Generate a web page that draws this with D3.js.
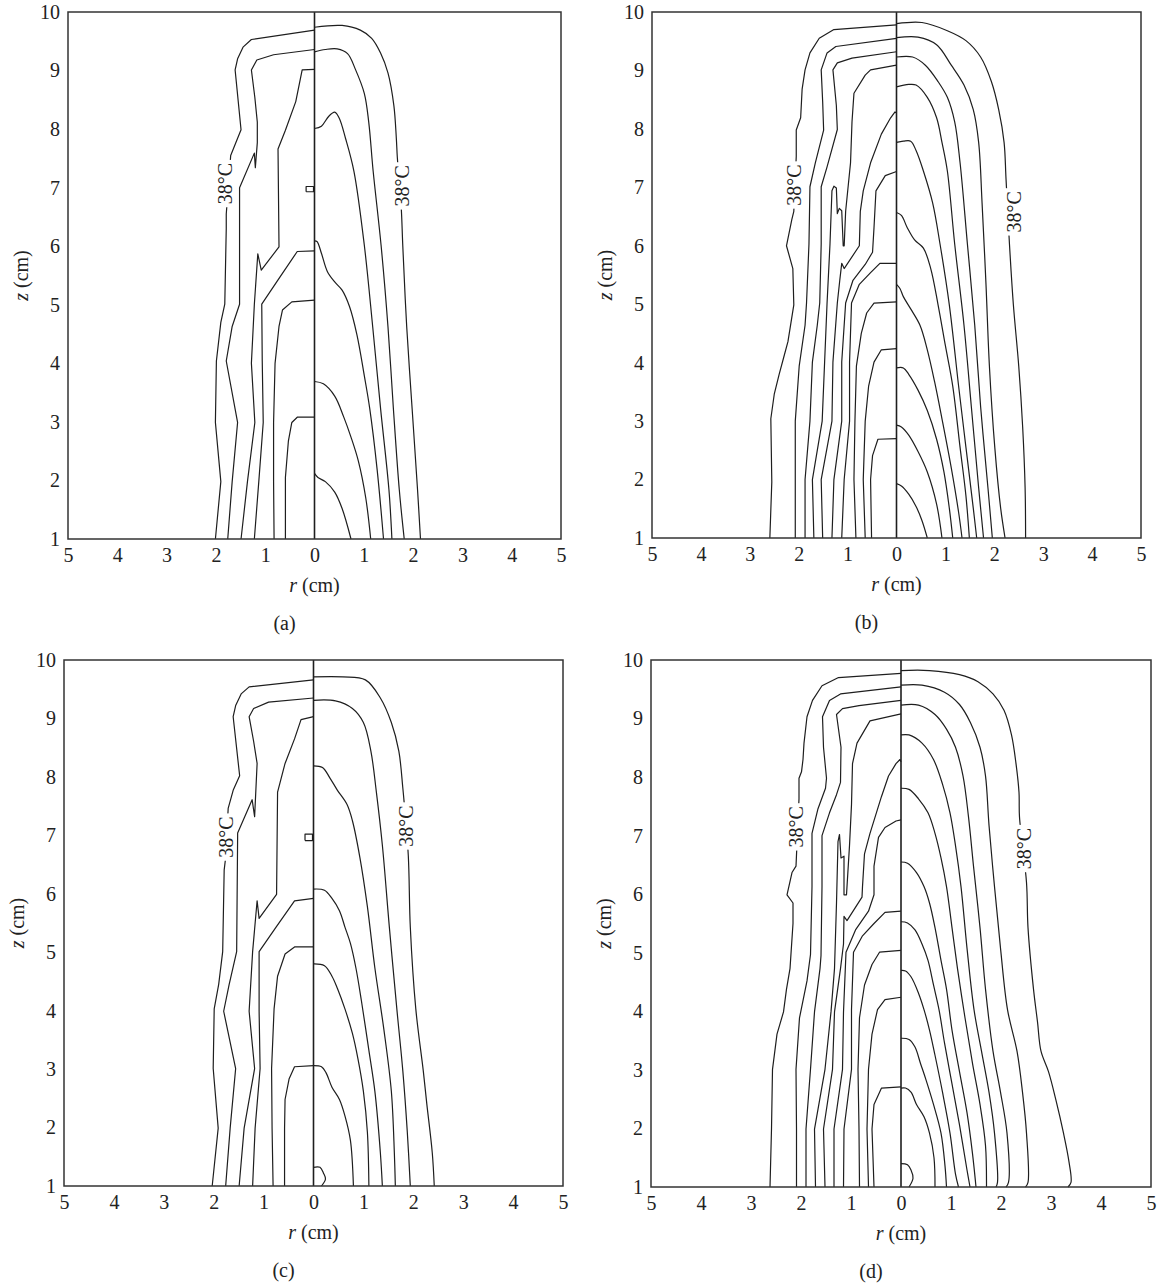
<!DOCTYPE html>
<html>
<head>
<meta charset="utf-8">
<script src="https://cdn.jsdelivr.net/npm/d3@7"></script>
<style>
  body { margin: 0; background: #fff; }
  svg text { font-family: "Liberation Serif", "Times New Roman", serif; fill: #222; }
</style>
</head>
<body>
<svg id="fig" width="1157" height="1284"></svg>
<script>
const rTicks = [-5, -4, -3, -2, -1, 0, 1, 2, 3, 4, 5];
const zTicks = [1, 2, 3, 4, 5, 6, 7, 8, 9, 10];
const isoText = "38°C";

// contour polylines, [r (cm), z (cm)]; left half uses negative r
const aLeft = [
  [[-2.01,1.00],[-1.90,1.98],[-2.01,2.99],[-1.99,4.04],[-1.90,4.70],[-1.82,5.01],[-1.79,6.30],[-1.79,6.55],[-1.70,7.55],[-1.58,7.80],[-1.49,7.99],[-1.61,9.01],[-1.56,9.20],[-1.45,9.40],[-1.28,9.53],[0,9.69]],
  [[-1.76,1.00],[-1.67,1.98],[-1.56,2.99],[-1.79,4.04],[-1.67,4.63],[-1.52,5.01],[-1.52,7.00],[-1.22,7.59],[-1.20,7.34],[-1.16,7.77],[-1.16,8.12],[-1.21,8.54],[-1.28,9.01],[-1.17,9.18],[-0.83,9.27],[0,9.36]],
  [[-1.49,1.00],[-1.36,1.98],[-1.21,2.99],[-1.28,4.00],[-1.22,5.01],[-1.15,5.87],[-1.08,5.59],[-0.72,5.99],[-0.74,7.66],[-0.59,7.98],[-0.38,8.47],[-0.25,9.01],[0,9.02]],
  [[-1.22,1.00],[-1.13,1.98],[-1.04,2.99],[-1.06,4.04],[-1.07,5.01],[-0.76,5.40],[-0.35,5.91],[0,5.92]],
  [[-0.82,1.00],[-0.83,1.98],[-0.83,2.99],[-0.80,4.00],[-0.72,4.63],[-0.65,4.91],[-0.46,5.05],[0,5.08]],
  [[-0.59,1.00],[-0.59,2.05],[-0.53,2.67],[-0.46,2.99],[-0.35,3.08],[0,3.08]]
];
const aRight = [
  [[0,9.74],[0.56,9.77],[0.93,9.69],[1.16,9.55],[1.34,9.30],[1.49,8.96],[1.61,8.40],[1.66,7.84],[1.68,7.52],[1.76,6.65],[1.79,6.02],[1.87,4.63],[1.98,3.23],[2.09,1.84],[2.15,1.00]],
  [[0,9.32],[0.22,9.36],[0.46,9.37],[0.67,9.29],[0.83,9.02],[1.01,8.61],[1.10,8.12],[1.19,7.28],[1.35,6.02],[1.49,4.63],[1.60,3.23],[1.72,1.84],[1.82,1.00]],
  [[0,8.01],[0.14,8.05],[0.29,8.22],[0.41,8.29],[0.50,8.19],[0.63,7.84],[0.80,7.28],[1.01,6.02],[1.18,4.63],[1.34,3.23],[1.51,1.84],[1.57,1.00]],
  [[0,6.09],[0.05,6.08],[0.14,5.88],[0.26,5.57],[0.41,5.39],[0.56,5.25],[0.71,4.97],[0.86,4.49],[1.01,3.79],[1.12,3.23],[1.27,2.19],[1.40,1.00]],
  [[0,3.69],[0.18,3.65],[0.41,3.44],[0.59,3.09],[0.74,2.74],[0.89,2.33],[1.04,1.70],[1.14,1.00]],
  [[0,2.12],[0.07,2.05],[0.22,1.98],[0.41,1.80],[0.56,1.52],[0.74,1.00]]
];
const aLoops = [
  [[-0.17,6.93],[-0.02,6.93],[-0.02,7.02],[-0.17,7.02],[-0.17,6.93]]
];

const bLeft = [
  [[-2.59,1.00],[-2.55,1.96],[-2.57,3.04],[-2.50,3.46],[-2.40,3.80],[-2.31,4.08],[-2.22,4.36],[-2.10,4.99],[-2.12,5.61],[-2.25,6.00],[-2.14,6.45],[-2.10,6.59],[-2.05,7.53],[-2.05,7.98],[-1.96,8.19],[-1.93,8.68],[-1.87,9.01],[-1.77,9.30],[-1.58,9.55],[-1.28,9.70],[0,9.78]],
  [[-2.07,1.00],[-2.07,2.00],[-2.07,3.00],[-1.99,3.94],[-1.87,4.64],[-1.84,5.02],[-1.79,6.03],[-1.77,7.01],[-1.66,7.42],[-1.49,7.98],[-1.51,8.47],[-1.54,9.01],[-1.42,9.30],[-1.24,9.41],[0,9.55]],
  [[-1.87,1.00],[-1.87,2.00],[-1.77,3.00],[-1.72,4.01],[-1.62,4.64],[-1.57,5.02],[-1.54,6.03],[-1.54,7.01],[-1.42,7.35],[-1.21,7.99],[-1.23,8.40],[-1.30,9.01],[-1.21,9.13],[-0.91,9.21],[0,9.32]],
  [[-1.69,1.00],[-1.72,2.00],[-1.52,3.00],[-1.47,4.01],[-1.42,5.02],[-1.36,6.03],[-1.32,6.94],[-1.28,7.02],[-1.23,6.99],[-1.21,6.55],[-1.17,6.64],[-1.12,6.60],[-1.09,6.00],[-1.07,6.00],[-1.04,6.59],[-0.94,7.42],[-0.91,8.12],[-0.87,8.61],[-0.64,8.92],[-0.53,9.01],[0,9.09]],
  [[-1.51,1.00],[-1.54,2.00],[-1.32,3.00],[-1.30,4.01],[-1.21,5.02],[-1.16,5.41],[-1.12,5.70],[-1.07,5.61],[-0.76,6.00],[-0.74,6.59],[-0.68,6.94],[-0.53,7.42],[-0.31,7.91],[-0.12,8.19],[-0.03,8.29],[0,8.27]],
  [[-1.32,1.00],[-1.28,2.00],[-1.12,3.00],[-1.12,4.01],[-1.04,5.02],[-0.89,5.41],[-0.64,5.68],[-0.49,5.89],[-0.46,6.31],[-0.42,6.94],[-0.23,7.20],[0,7.27]],
  [[-1.12,1.00],[-1.07,2.00],[-0.96,3.00],[-0.96,4.01],[-0.92,5.02],[-0.76,5.34],[-0.53,5.54],[-0.34,5.70],[0,5.70]],
  [[-0.83,1.00],[-0.87,2.00],[-0.85,3.00],[-0.82,3.94],[-0.72,4.50],[-0.61,4.85],[-0.46,5.02],[0,5.04]],
  [[-0.64,1.00],[-0.68,2.00],[-0.64,3.00],[-0.57,3.60],[-0.46,4.01],[-0.31,4.22],[0,4.24]],
  [[-0.51,1.00],[-0.53,2.00],[-0.49,2.41],[-0.38,2.69],[0,2.70]]
];
const bRight = [
  [[0,9.80],[0.52,9.82],[1.04,9.68],[1.42,9.51],[1.72,9.23],[1.94,8.81],[2.09,8.33],[2.20,7.77],[2.24,7.14],[2.31,6.03],[2.39,4.99],[2.50,3.94],[2.58,2.90],[2.63,1.86],[2.64,1.00]],
  [[0,9.56],[0.44,9.57],[0.82,9.44],[1.12,9.09],[1.38,8.75],[1.57,8.33],[1.68,7.77],[1.75,6.73],[1.83,5.34],[1.90,3.94],[2.01,2.55],[2.13,1.51],[2.22,1.00]],
  [[0,9.23],[0.33,9.23],[0.59,9.09],[0.85,8.81],[1.04,8.54],[1.19,8.12],[1.30,7.42],[1.45,6.03],[1.60,4.64],[1.72,3.25],[1.87,1.86],[1.96,1.00]],
  [[0,8.72],[0.25,8.76],[0.40,8.75],[0.63,8.54],[0.82,8.19],[0.93,7.77],[1.04,7.28],[1.19,6.03],[1.38,4.64],[1.53,3.25],[1.68,1.86],[1.78,1.00]],
  [[0,7.77],[0.14,7.79],[0.29,7.79],[0.40,7.63],[0.55,7.28],[0.74,6.73],[0.89,6.03],[1.08,4.99],[1.27,3.60],[1.42,2.55],[1.57,1.51],[1.64,1.00]],
  [[0,6.57],[0.10,6.52],[0.22,6.31],[0.37,6.10],[0.55,5.96],[0.70,5.61],[0.85,4.99],[1.00,4.29],[1.15,3.60],[1.30,2.55],[1.42,1.72],[1.49,1.00]],
  [[0,5.34],[0.07,5.27],[0.14,5.13],[0.29,4.92],[0.48,4.64],[0.63,4.22],[0.78,3.67],[0.93,3.04],[1.12,2.20],[1.27,1.44],[1.34,1.00]],
  [[0,3.91],[0.14,3.91],[0.25,3.80],[0.44,3.53],[0.63,3.18],[0.82,2.69],[0.97,2.13],[1.08,1.51],[1.15,1.00]],
  [[0,2.93],[0.10,2.90],[0.25,2.76],[0.44,2.48],[0.63,2.13],[0.82,1.58],[0.93,1.00]],
  [[0,1.93],[0.10,1.89],[0.25,1.75],[0.40,1.54],[0.52,1.30],[0.63,1.00]]
];

const cLeft = [
  [[-2.03,1.00],[-1.91,1.99],[-2.01,3.01],[-1.99,4.03],[-1.90,4.45],[-1.82,5.01],[-1.79,6.41],[-1.76,6.62],[-1.71,7.46],[-1.61,7.77],[-1.48,8.02],[-1.61,9.03],[-1.56,9.22],[-1.45,9.42],[-1.29,9.54],[0,9.66]],
  [[-1.76,1.00],[-1.67,1.99],[-1.56,3.01],[-1.80,3.99],[-1.69,4.45],[-1.54,5.01],[-1.52,7.04],[-1.23,7.61],[-1.18,7.32],[-1.13,8.23],[-1.20,8.61],[-1.29,9.03],[-1.20,9.17],[-0.90,9.28],[0,9.35]],
  [[-1.49,1.00],[-1.39,1.99],[-1.18,3.01],[-1.29,3.99],[-1.22,5.01],[-1.13,5.88],[-1.09,5.58],[-0.74,5.99],[-0.72,7.74],[-0.57,8.23],[-0.38,8.65],[-0.25,8.98],[0,9.03]],
  [[-1.22,1.00],[-1.17,1.99],[-1.07,3.01],[-1.09,3.99],[-1.09,5.01],[-0.75,5.43],[-0.38,5.88],[0,5.92]],
  [[-0.81,1.00],[-0.83,1.99],[-0.84,3.01],[-0.79,4.03],[-0.72,4.59],[-0.57,4.97],[-0.38,5.09],[0,5.09]],
  [[-0.58,1.00],[-0.58,1.99],[-0.57,2.48],[-0.49,2.83],[-0.38,3.04],[0,3.06]]
];
const cRight = [
  [[0,9.71],[0.59,9.71],[1.04,9.66],[1.34,9.35],[1.56,8.93],[1.71,8.44],[1.79,7.81],[1.82,7.53],[1.90,6.65],[1.94,5.43],[2.05,4.03],[2.20,2.97],[2.27,2.41],[2.38,1.57],[2.42,1.00]],
  [[0,9.31],[0.44,9.30],[0.78,9.17],[1.00,8.93],[1.15,8.44],[1.26,7.74],[1.38,6.83],[1.52,5.43],[1.67,4.03],[1.79,2.97],[1.88,1.92],[1.94,1.00]],
  [[0,8.19],[0.18,8.16],[0.33,7.98],[0.48,7.77],[0.67,7.53],[0.78,7.25],[0.93,6.62],[1.08,5.78],[1.23,4.73],[1.41,3.68],[1.56,2.62],[1.62,1.57],[1.64,1.00]],
  [[0,6.08],[0.22,6.06],[0.37,5.92],[0.52,5.71],[0.63,5.43],[0.74,5.15],[0.85,4.73],[0.96,4.17],[1.11,3.32],[1.23,2.62],[1.34,1.57],[1.38,1.00]],
  [[0,4.80],[0.22,4.77],[0.37,4.59],[0.48,4.38],[0.63,4.03],[0.78,3.61],[0.89,3.18],[1.00,2.62],[1.08,1.92],[1.11,1.00]],
  [[0,3.06],[0.16,3.04],[0.25,2.94],[0.37,2.69],[0.52,2.48],[0.63,2.20],[0.74,1.78],[0.80,1.00]],
  [[0,1.32],[0.13,1.32],[0.20,1.22],[0.24,1.12],[0.16,1.00]]
];
const cLoops = [
  [[-0.17,6.91],[-0.02,6.91],[-0.02,7.02],[-0.17,7.02],[-0.17,6.91]]
];

const dLeft = [
  [[-2.62,1.00],[-2.59,1.99],[-2.57,3.01],[-2.48,3.61],[-2.35,3.99],[-2.29,4.38],[-2.22,4.73],[-2.16,5.50],[-2.16,5.85],[-2.28,5.99],[-2.18,6.37],[-2.10,6.48],[-2.04,7.63],[-2.04,7.98],[-1.99,8.09],[-1.96,8.30],[-1.94,8.58],[-1.88,9.03],[-1.77,9.31],[-1.58,9.56],[-1.25,9.70],[0,9.77]],
  [[-2.09,1.00],[-2.09,1.99],[-2.10,3.01],[-2.03,3.89],[-1.88,4.52],[-1.81,4.97],[-1.78,6.13],[-1.78,7.04],[-1.66,7.46],[-1.51,7.81],[-1.49,7.98],[-1.55,8.51],[-1.57,9.03],[-1.43,9.31],[-1.21,9.42],[0,9.54]],
  [[-1.90,1.00],[-1.90,1.99],[-1.81,3.01],[-1.73,3.99],[-1.62,4.73],[-1.60,4.95],[-1.58,6.13],[-1.58,7.00],[-1.43,7.39],[-1.29,7.70],[-1.21,7.91],[-1.20,8.51],[-1.29,9.07],[-1.17,9.17],[-0.84,9.22],[0,9.31]],
  [[-1.71,1.00],[-1.73,1.99],[-1.52,3.01],[-1.40,3.99],[-1.33,4.73],[-1.29,5.85],[-1.26,6.90],[-1.23,7.02],[-1.20,6.62],[-1.14,6.65],[-1.14,5.99],[-1.09,5.99],[-1.03,6.83],[-0.99,7.53],[-0.97,8.23],[-0.88,8.58],[-0.62,8.96],[0,9.08]],
  [[-1.52,1.00],[-1.55,1.99],[-1.37,3.01],[-1.33,3.99],[-1.21,4.73],[-1.15,5.15],[-1.14,5.62],[-1.08,5.55],[-0.78,5.95],[-0.77,6.13],[-0.73,6.69],[-0.62,7.04],[-0.39,7.67],[-0.25,8.02],[-0.10,8.23],[-0.02,8.30],[0,8.26]],
  [[-1.34,1.00],[-1.34,1.99],[-1.17,3.01],[-1.15,3.99],[-1.10,5.01],[-0.91,5.39],[-0.65,5.71],[-0.54,5.99],[-0.54,6.48],[-0.45,6.97],[-0.32,7.14],[-0.10,7.25],[0,7.27]],
  [[-1.15,1.00],[-1.14,1.99],[-0.99,3.01],[-0.99,4.03],[-0.95,5.01],[-0.77,5.29],[-0.54,5.50],[-0.32,5.69],[0,5.71]],
  [[-0.83,1.00],[-0.84,1.99],[-0.86,3.01],[-0.83,3.89],[-0.73,4.45],[-0.58,4.80],[-0.43,5.01],[0,5.04]],
  [[-0.65,1.00],[-0.68,1.99],[-0.65,3.01],[-0.58,3.61],[-0.47,4.03],[-0.32,4.20],[0,4.24]],
  [[-0.54,1.00],[-0.58,1.99],[-0.54,2.41],[-0.39,2.69],[0,2.71]]
];
const dRight = [
  [[0,9.82],[0.57,9.82],[1.17,9.75],[1.54,9.63],[1.84,9.42],[2.06,9.14],[2.21,8.72],[2.30,8.23],[2.36,7.74],[2.37,7.32],[2.51,6.20],[2.54,5.43],[2.65,4.38],[2.73,3.82],[2.80,3.32],[2.95,2.97],[3.10,2.48],[3.25,1.92],[3.36,1.43],[3.40,1.08],[3.34,1.00]],
  [[0,9.57],[0.42,9.57],[0.87,9.45],[1.17,9.24],[1.39,8.93],[1.58,8.51],[1.69,8.02],[1.76,7.18],[1.87,6.13],[1.99,5.08],[2.13,4.03],[2.32,3.32],[2.43,2.62],[2.51,1.92],[2.54,1.08],[2.49,1.00]],
  [[0,9.23],[0.35,9.23],[0.68,9.07],[0.91,8.82],[1.09,8.51],[1.24,8.02],[1.35,7.32],[1.45,6.48],[1.58,5.43],[1.69,4.38],[1.84,3.32],[1.99,2.62],[2.12,1.92],[2.15,1.08],[2.10,1.00]],
  [[0,8.72],[0.16,8.72],[0.42,8.58],[0.65,8.30],[0.83,7.88],[0.98,7.39],[1.09,6.83],[1.20,6.13],[1.32,5.08],[1.46,4.03],[1.61,3.32],[1.76,2.62],[1.87,1.92],[1.93,1.08],[1.90,1.00]],
  [[0,7.81],[0.16,7.79],[0.35,7.63],[0.54,7.39],[0.68,7.04],[0.80,6.62],[0.91,6.13],[1.02,5.43],[1.13,4.73],[1.28,3.89],[1.43,3.11],[1.58,2.41],[1.69,1.71],[1.71,1.00]],
  [[0,6.55],[0.13,6.53],[0.31,6.37],[0.46,6.13],[0.57,5.85],[0.68,5.43],[0.80,4.87],[0.91,4.38],[1.02,3.68],[1.17,2.97],[1.32,2.27],[1.43,1.57],[1.50,1.00]],
  [[0,5.53],[0.13,5.51],[0.28,5.39],[0.42,5.15],[0.54,4.87],[0.65,4.45],[0.76,4.03],[0.87,3.46],[1.02,2.76],[1.17,2.06],[1.32,1.29],[1.38,1.00]],
  [[0,4.70],[0.09,4.69],[0.20,4.59],[0.35,4.31],[0.46,4.03],[0.57,3.68],[0.68,3.25],[0.83,2.62],[0.98,1.92],[1.09,1.22],[1.15,1.00]],
  [[0,3.54],[0.16,3.52],[0.28,3.39],[0.39,3.11],[0.50,2.83],[0.65,2.41],[0.80,1.92],[0.88,1.36],[0.91,1.00]],
  [[0,2.69],[0.09,2.69],[0.20,2.62],[0.31,2.41],[0.46,2.20],[0.57,1.92],[0.66,1.50],[0.68,1.00]],
  [[0,1.40],[0.13,1.38],[0.20,1.29],[0.24,1.15],[0.16,1.00]]
];

// where the 38°C labels sit, [r, z]
const aIsoLabels = [[-1.81, 7.07], [1.77, 7.03]];
const bIsoLabels = [[-2.10, 7.04], [2.40, 6.58]];
const cIsoLabels = [[-1.76, 6.97], [1.85, 7.16]];
const dIsoLabels = [[-2.10, 7.15], [2.46, 6.78]];

const panels = [
  { tag: "(a)", box: [68, 561, 12, 539], left: aLeft, right: aRight, loops: aLoops, iso: aIsoLabels },
  { tag: "(b)", box: [652, 1141, 12, 538], left: bLeft, right: bRight, loops: [], iso: bIsoLabels },
  { tag: "(c)", box: [64, 563, 660, 1186], left: cLeft, right: cRight, loops: cLoops, iso: cIsoLabels },
  { tag: "(d)", box: [651, 1151, 660, 1187], left: dLeft, right: dRight, loops: [], iso: dIsoLabels }
];

const svg = d3.select("#fig");
const ink = "#1e1e1e";
const fontPx = "20px";

function drawPanel(p) {
  const [x0, x1, y0, y1] = p.box;
  const x = d3.scaleLinear().domain([-5, 5]).range([x0, x1]);
  const y = d3.scaleLinear().domain([1, 10]).range([y1, y0]);
  const g = svg.append("g");

  const jagged = d3.line().x(d => x(d[0])).y(d => y(d[1]));
  const smooth = d3.line().x(d => x(d[0])).y(d => y(d[1]))
    .curve(d3.curveCatmullRom.alpha(0.5));

  // left half is drawn as a polyline, right half is smoother
  g.selectAll("path.isoL")
    .data(p.left.concat(p.loops))
    .join("path")
    .attr("class", "isoL")
    .attr("fill", "none")
    .attr("stroke", ink)
    .attr("stroke-width", 1.2)
    .attr("stroke-linejoin", "round")
    .attr("d", jagged);

  g.selectAll("path.isoR")
    .data(p.right)
    .join("path")
    .attr("class", "isoR")
    .attr("fill", "none")
    .attr("stroke", ink)
    .attr("stroke-width", 1.2)
    .attr("d", smooth);

  // centre axis r = 0
  g.append("line")
    .attr("x1", x(0)).attr("x2", x(0))
    .attr("y1", y(1)).attr("y2", y(10))
    .attr("stroke", ink)
    .attr("stroke-width", 1.6);

  // frame
  g.append("rect")
    .attr("x", x0).attr("y", y0)
    .attr("width", x1 - x0).attr("height", y1 - y0)
    .attr("fill", "none")
    .attr("stroke", "#333")
    .attr("stroke-width", 1.5);

  // x axis
  const ax = g.append("g")
    .attr("transform", `translate(0,${y1})`)
    .call(d3.axisBottom(x).tickValues(rTicks).tickSize(0).tickPadding(9)
      .tickFormat(d => Math.abs(d)));
  ax.select(".domain").remove();
  ax.selectAll("text").style("font-size", fontPx).attr("fill", ink);

  // y axis
  const ay = g.append("g")
    .attr("transform", `translate(${x0},0)`)
    .call(d3.axisLeft(y).tickValues(zTicks).tickSize(0).tickPadding(8));
  ay.select(".domain").remove();
  ay.selectAll("text").style("font-size", fontPx).attr("fill", ink);

  // axis titles
  const rt = g.append("text")
    .attr("x", x(0))
    .attr("y", y1 + 53)
    .attr("text-anchor", "middle")
    .style("font-size", fontPx);
  rt.append("tspan").style("font-style", "italic").text("r");
  rt.append("tspan").text(" (cm)");

  const zt = g.append("text")
    .attr("transform", `translate(${x0 - 40},${(y0 + y1) / 2}) rotate(-90)`)
    .attr("text-anchor", "middle")
    .style("font-size", fontPx);
  zt.append("tspan").style("font-style", "italic").text("z");
  zt.append("tspan").text(" (cm)");

  // panel caption
  g.append("text")
    .attr("x", (x0 + x1) / 2 - 30)
    .attr("y", y1 + 91)
    .attr("text-anchor", "middle")
    .style("font-size", fontPx)
    .text(p.tag);

  // 38°C labels sitting in gaps of the outer contour
  p.iso.forEach(([r, z]) => {
    const lg = g.append("g")
      .attr("transform", `translate(${x(r)},${y(z)}) rotate(-90)`);
    const t = lg.append("text")
      .attr("text-anchor", "middle")
      .attr("dy", "0.35em")
      .style("font-size", fontPx)
      .text(isoText);
    const bb = t.node().getBBox();
    lg.insert("rect", "text")
      .attr("x", bb.x - 3).attr("y", bb.y + 2)
      .attr("width", bb.width + 6).attr("height", bb.height - 4)
      .attr("fill", "#fff");
  });
}

panels.forEach(drawPanel);
</script>
</body>
</html>
